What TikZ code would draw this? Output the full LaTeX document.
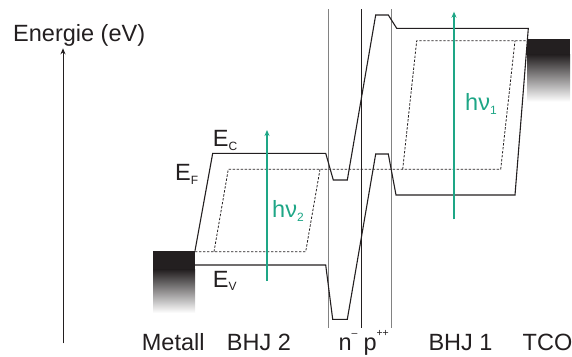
\documentclass[tikz,border=0pt]{standalone}
\usepackage{fontspec}
\setmainfont{Liberation Sans}
\usetikzlibrary{arrows.meta}
\definecolor{ink}{RGB}{35,31,32}
\definecolor{photon}{RGB}{30,166,134}
\definecolor{divider}{RGB}{130,130,130}
\newcommand\lowidx[2][4pt]{\raisebox{-#1}{\fontsize{12}{13}\selectfont #2}}
\newcommand\highidx[1]{\raisebox{14pt}{\fontsize{10.5}{12}\selectfont #1}}

\begin{document}
\begin{tikzpicture}[
  x=1pt,y=-1pt,
  >={Stealth[length=6pt,width=5pt]},
  band/.style={ink,line width=1.1pt,line join=miter},
  fermi/.style={ink,line width=0.8pt,dash pattern=on 2.4pt off 1.6pt},
  wall/.style={line width=0.9pt},
  photonarrow/.style={->,photon,line width=1.3pt},
  label/.style={inner sep=0pt,anchor=base west,text=ink,font=\fontsize{23.5}{28}\selectfont},
]
  \useasboundingbox (0,0) rectangle (572,356);
  % contacts
  \fill[ink] (153.3,250.7) rectangle (195,270);
  \shade[top color=ink,bottom color=white] (153.3,269.5) rectangle (195,313);
  \fill[ink] (527.3,39) rectangle (570,55);
  \shade[top color=ink,bottom color=white] (527.3,54.5) rectangle (570,101.7);
  % energy axis
  \coordinate (axisfoot) at (63,343.3);
  \coordinate (axishead) at (63,48.3);
  \draw[->,ink,line width=0.9pt] (axisfoot) -- (axishead);
  \node[label] (energy) at (13,41.7) {Energie (eV)};
  % junction borders
  \foreach \x/\c in {328.3/divider,361.7/ink,391.7/divider}
    \draw[wall,\c] (\x,9.3) -- (\x,328.3);
  % conduction and valence band
  \draw[band] (195,250.7) -- (212.7,153.3) -- (325.7,153.3) -- (333.3,180)
    -- (347.3,180) -- (375.7,15) -- (388.3,15) -- (396.7,28.3) -- (528.3,28.3)
    -- (515,195) -- (396,195) -- (388.3,154) -- (375.7,154) -- (347.3,319.3)
    -- (332.7,319.3) -- (325.7,265) -- (195,265);
  % quasi fermi levels
  \draw[fermi] (214,251.7) -- (228.3,169.3) -- (500.7,169.3) -- (515,40.7);
  \draw[fermi] (195,251.7) -- (305.7,251.7) -- (320,169.3);
  \draw[fermi] (402.7,169.3) -- (416.7,40.7) -- (527.3,40.7);
  % photons
  \coordinate (low2) at (267,281);
  \coordinate (up2) at (267,130);
  \coordinate (low1) at (454,219.3);
  \coordinate (up1) at (454,11.7);
  \draw[photonarrow] (low2) -- (up2);
  \draw[photonarrow] (low1) -- (up1);
  \node[label,text=photon] (hnu2) at (272,217) {hν\lowidx[4.5pt]{2}};
  \node[label,text=photon] (hnu1) at (465,110) {hν\lowidx[4.5pt]{1}};
  % band labels
  \node[label] (ec) at (212.7,146) {E\lowidx{C}};
  \node[label] (ef) at (175,180) {E\lowidx{F}};
  \node[label] (ev) at (212.7,287) {E\lowidx[3pt]{V}};
  % layers
  \node[label] (metal) at (141.7,350) {Metall};
  \node[label] (bhj2) at (226.7,350) {BHJ 2};
  \node[label] (nlayer) at (338.3,350) {n\highidx{–}};
  \node[label] (player) at (363.3,350) {p\highidx{++}};
  \node[label] (bhj1) at (428.3,350) {BHJ 1};
  \node[label] (tco) at (522.5,350) {TCO};
\end{tikzpicture}
\end{document}
